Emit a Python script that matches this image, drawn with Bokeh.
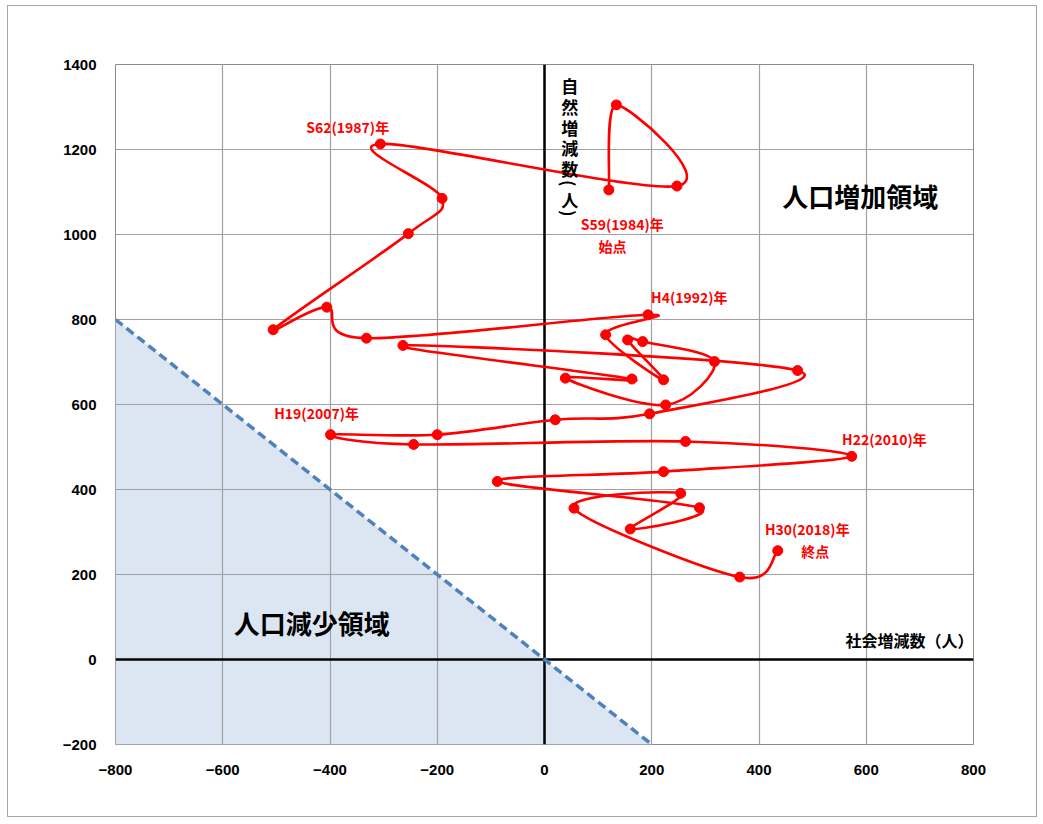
import math
from bokeh.plotting import figure
from bokeh.models import FixedTicker, Span, Label, Range1d
from bokeh.embed import file_html
from bokeh.resources import INLINE

# ---- data: 社会増減数 (x) and 自然増減数 (y), 1984 (S59) .. 2018 (H30)
years = list(range(1984, 2019))
social = [120, 134, 247, -306, -191, -254, -506, -406, -332, 193,
          114, 222, 155, 183, 317, 226, 39, 163, -264, 472,
          196, 20, -200, -399, -244, 263, 573, 222, -88, 289,
          160, 254, 55, 364, 435]
natural = [1105, 1305, 1114, 1213, 1085, 1002, 776, 829, 756, 811,
           764, 658, 752, 748, 701, 599, 662, 660, 739, 680,
           578, 564, 529, 529, 506, 513, 478, 442, 419, 357,
           307, 391, 356, 194, 256]

x_ticks = [-800, -600, -400, -200, 0, 200, 400, 600, 800]
y_ticks = [-200, 0, 200, 400, 600, 800, 1000, 1200, 1400]

# annotation texts (label, x, y)
point_labels = [
    ("S62(1987)年", -367, 1252),
    ("S59(1984)年", 145, 1024),
    ("始点", 127, 972),
    ("H4(1992)年", 270, 852),
    ("H19(2007)年", -425, 581),
    ("H22(2010)年", 634, 520),
    ("H30(2018)年", 490, 306),
    ("終点", 505, 256),
]

XMIN, XMAX = x_ticks[0], x_ticks[-1]
YMIN, YMAX = y_ticks[0], y_ticks[-1]

CJK = "Noto Sans CJK JP"
RED = "#ff0000"

p = figure(width=1030, height=812, output_backend="svg", toolbar_location=None,
           x_range=Range1d(XMIN, XMAX), y_range=Range1d(YMIN, YMAX),
           min_border_left=107, min_border_right=65, min_border_top=58,
           min_border_bottom=74)
p.background_fill_color = "white"
p.border_fill_color = "white"
p.outline_line_color = "#8c8c8c"
p.outline_line_width = 1
p.styles = {"border": "1px solid #a6a6a6", "margin-left": "7px",
            "margin-top": "5px"}

for ax, ticks in ((p.xaxis[0], x_ticks), (p.yaxis[0], y_ticks)):
    ax.ticker = FixedTicker(ticks=ticks)
    ax.axis_line_color = None
    ax.major_tick_line_color = None
    ax.minor_tick_line_color = None
    ax.major_label_text_font = "Liberation Sans"
    ax.major_label_text_font_style = "bold"
    ax.major_label_text_font_size = "15px"
    ax.major_label_text_color = "black"
p.xaxis.major_label_standoff = 14
p.yaxis.major_label_standoff = 13

p.xgrid.ticker = FixedTicker(ticks=x_ticks)
p.ygrid.ticker = FixedTicker(ticks=y_ticks)
p.grid.grid_line_color = "#a0a0a0"
p.grid.grid_line_width = 1.2

# population-decrease region: social + natural < 0
shade_x = [XMIN, XMIN, -YMIN]
shade_y = [-XMIN, YMIN, YMIN]
p.patch(shade_x, shade_y, fill_color="#dce6f2", line_color=None, level="image")

# zero axes
p.add_layout(Span(location=0, dimension="width", line_color="black",
                  line_width=2.5, level="underlay"))
p.add_layout(Span(location=0, dimension="height", line_color="black",
                  line_width=2.5, level="underlay"))

# boundary line social + natural = 0
p.line([XMIN, -YMIN], [-XMIN, YMIN], line_color="#4f81bd", line_width=3.5,
       line_dash="9 5")

# smoothed trajectory (Catmull-Rom -> cubic Bezier through the data points)
n = len(social)
x0, y0, x1, y1, cx0, cy0, cx1, cy1 = [], [], [], [], [], [], [], []
for i in range(n - 1):
    a = i - 1 if i > 0 else i
    d = i + 2 if i + 2 < n else i + 1
    x0.append(social[i]); y0.append(natural[i])
    x1.append(social[i + 1]); y1.append(natural[i + 1])
    cx0.append(social[i] + (social[i + 1] - social[a]) / 6)
    cy0.append(natural[i] + (natural[i + 1] - natural[a]) / 6)
    cx1.append(social[i + 1] - (social[d] - social[i]) / 6)
    cy1.append(natural[i + 1] - (natural[d] - natural[i]) / 6)
p.bezier(x0=x0, y0=y0, x1=x1, y1=y1, cx0=cx0, cy0=cy0, cx1=cx1, cy1=cy1,
         line_color=RED, line_width=2.6)
p.scatter(social, natural, size=10, fill_color=RED, line_color=RED)

for txt, lx, ly in point_labels:
    p.add_layout(Label(x=lx, y=ly, text=txt, text_font=CJK,
                       text_font_style="bold", text_font_size="14px",
                       text_color=RED, text_align="center",
                       text_baseline="middle"))

# region labels
p.add_layout(Label(x=589, y=1092, text="人口増加領域", text_font=CJK,
                   text_font_style="bold", text_font_size="26px",
                   text_color="black", text_align="center",
                   text_baseline="middle"))
p.add_layout(Label(x=-434, y=87, text="人口減少領域", text_font=CJK,
                   text_font_style="bold", text_font_size="26px",
                   text_color="black", text_align="center",
                   text_baseline="middle"))

# axis titles
p.add_layout(Label(x=XMAX, y=47, text="社会増減数（人）", text_font=CJK,
                   text_font_style="bold", text_font_size="16px",
                   text_color="black", text_align="right",
                   text_baseline="middle"))
v_chars = ["自", "然", "増", "減", "数", "(", "人", ")"]
v_steps = [0, 21, 21, 20, 21, 15, 16, 14]
off = 0
for ch, st in zip(v_chars, v_steps):
    off += st
    rot = -math.pi / 2 if ch in "()" else 0
    p.add_layout(Label(x=47, y=1351, y_offset=-(off), text=ch, text_font=CJK,
                       text_font_style="bold", text_font_size="17px",
                       text_color="black", text_align="center",
                       text_baseline="middle", angle=rot))

open("out.html", "w").write(file_html(p, INLINE))
